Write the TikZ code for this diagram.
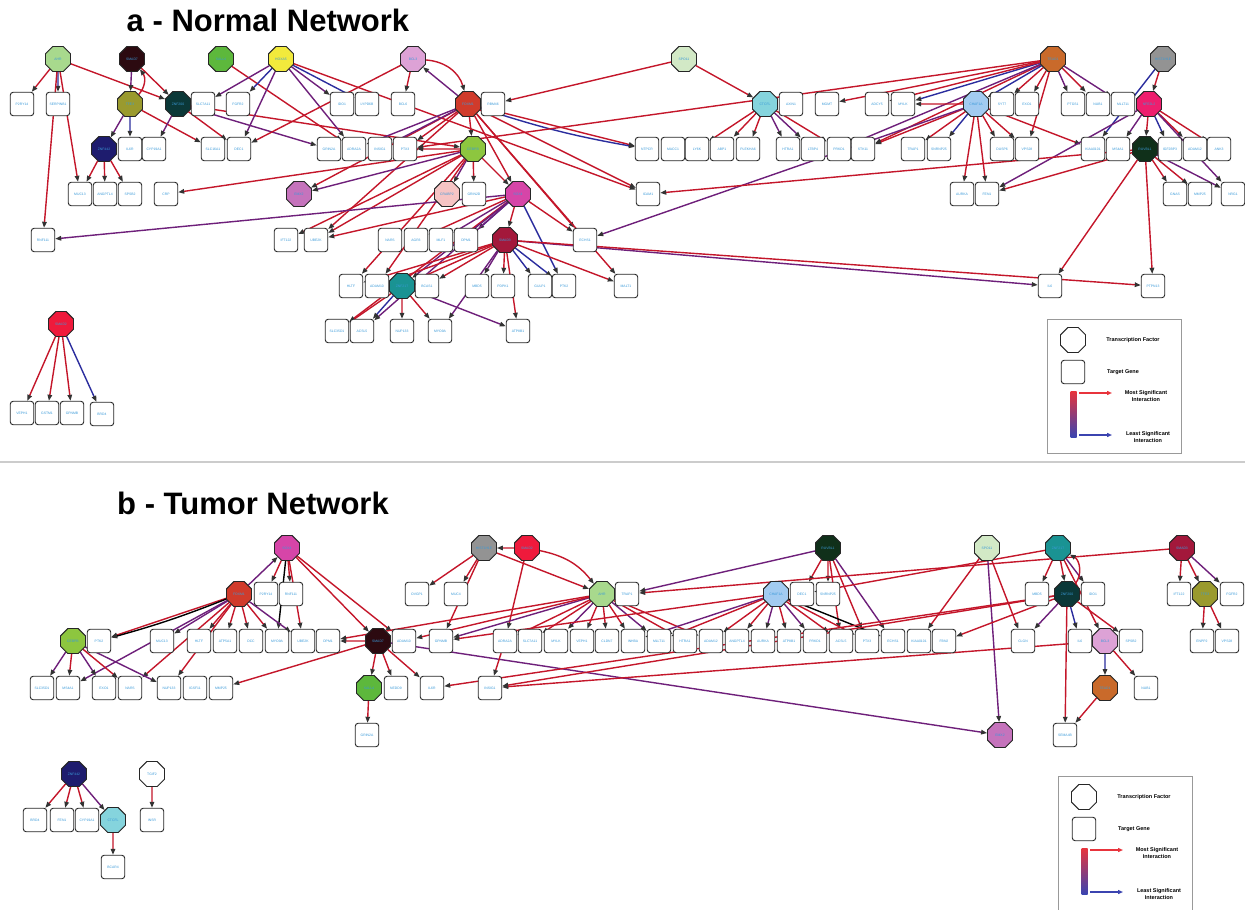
\documentclass[tikz,border=0pt]{standalone}
\usepackage{fontspec}
\setmainfont{Liberation Sans}
\usetikzlibrary{shapes.geometric,arrows.meta,backgrounds}

% edge colours
\definecolor{sigred}{HTML}{C4162A}
\definecolor{midpurple}{HTML}{6E1F7A}
\definecolor{lowblue}{HTML}{2B2D9E}
\definecolor{genetext}{HTML}{3A9AD9}
\definecolor{keyred}{HTML}{E8343C}
\definecolor{keyblue}{HTML}{3B44B0}
% transcription factor fills
\definecolor{cAHR}{HTML}{A8D98D}
\definecolor{cSMAD7}{HTML}{2C0A10}
\definecolor{cSALL4}{HTML}{5DB83C}
\definecolor{cHOXA5}{HTML}{F2EA3C}
\definecolor{cBCL3}{HTML}{DDA2D6}
\definecolor{cTFE3}{HTML}{9A9A2E}
\definecolor{cZNF200}{HTML}{0B3838}
\definecolor{cZNF442}{HTML}{1E1C6E}
\definecolor{cEMX2}{HTML}{C573BC}
\definecolor{cFOXM1}{HTML}{D03B2B}
\definecolor{cCEBPB}{HTML}{8DC63F}
\definecolor{cCRABP2}{HTML}{F6C4C4}
\definecolor{cSOX4}{HTML}{D645A8}
\definecolor{cSMAD3}{HTML}{A3183B}
\definecolor{cZNF217}{HTML}{1A9393}
\definecolor{cSPO11}{HTML}{D2E9C6}
\definecolor{cCTCFL}{HTML}{85D4DD}
\definecolor{cTEAD1}{HTML}{C96A2B}
\definecolor{cHIST}{HTML}{939393}
\definecolor{cCHAF1A}{HTML}{A2CBF1}
\definecolor{cNFE2}{HTML}{EE1E6E}
\definecolor{cRUVBL1}{HTML}{10301A}
\definecolor{cSMAD2}{HTML}{EF1A3C}

\tikzset{
  tf/.style={regular polygon, regular polygon sides=8, minimum size=27pt, inner sep=0pt,
    draw=black!85, line width=0.9pt, font=\fontsize{3.4}{4}\selectfont, text=genetext},
  gene/.style={rectangle, rounded corners=3pt, minimum size=23.5pt, inner sep=0pt,
    draw=black!85, line width=0.9pt, fill=white, font=\fontsize{3.4}{4}\selectfont, text=genetext},
  link/.style={line width=1.4pt, -{Triangle[length=6pt,width=4.5pt,color=black!80]}},
  sig/.style={link, sigred},
  mid/.style={link, midpurple},
  low/.style={link, lowblue},
  title/.style={font=\bfseries\fontsize{31}{36}\selectfont},
  legtext/.style={font=\bfseries\fontsize{5.5}{6.5}\selectfont, align=center},
  pics/legendkey/.style={code={
    \draw[black!40, line width=0.8pt] (0,0) rectangle (134,134);
    \node[tf, fill=white] (-tf) at (26,21) {};
    \node[legtext] (-tftext) at (86,21) {Transcription Factor};
    \node[gene] (-gene) at (26,53) {};
    \node[legtext] (-genetext) at (76,53) {Target Gene};
    \shade[top color=keyred, bottom color=keyblue] (23.5,72) rectangle (29.5,118);
    \coordinate (-hi) at (32,74); \coordinate (-hiend) at (65,74);
    \coordinate (-lo) at (32,116); \coordinate (-loend) at (65,116);
    \draw[keyred, line width=1.3pt, -{Triangle[length=5pt,width=4pt]}] (-hi) -- (-hiend);
    \draw[keyblue, line width=1.3pt, -{Triangle[length=5pt,width=4pt]}] (-lo) -- (-loend);
    \node[legtext] (-hitext) at (99,77) {Most Significant\\Interaction};
    \node[legtext] (-lotext) at (101,118) {Least Significant\\Interaction};
  }},
}

\begin{document}
\begin{tikzpicture}[x=1pt, y=-1pt]
  \useasboundingbox (0,0) rectangle (1245,910);

  \node[title] (titleA) at (268,20) {a - Normal Network};
  \node[title] (titleB) at (253,503) {b - Tumor Network};
  \draw[black!20, line width=1.2pt] (0,462) -- (1245,462);

  %%% normal network: transcription factors
  \node[tf,fill=cAHR] (ahrA) at (58,59) {AHR};
  \node[tf,fill=cSMAD7] (smad7A) at (132,59) {SMAD7};
  \node[tf,fill=cSALL4] (sall4A) at (221,59) {SALL4};
  \node[tf,fill=cHOXA5] (hoxa5A) at (281,59) {HOXA5};
  \node[tf,fill=cBCL3] (bcl3A) at (413,59) {BCL3};
  \node[tf,fill=cSPO11] (spo11A) at (684,59) {SPO11};
  \node[tf,fill=cTEAD1] (tead1A) at (1053,59) {TEAD1};
  \node[tf,fill=cHIST] (histA) at (1163,59) {HIST1H1E};
  \node[tf,fill=cTFE3] (tfe3A) at (130,104) {TFE3};
  \node[tf,fill=cZNF200] (znf200A) at (178,104) {ZNF200};
  \node[tf,fill=cFOXM1] (foxm1A) at (468,104) {FOXM1};
  \node[tf,fill=cCTCFL] (ctcflA) at (765,104) {CTCFL};
  \node[tf,fill=cCHAF1A] (chaf1aA) at (976,104) {CHAF1A};
  \node[tf,fill=cNFE2] (nfe2A) at (1149,104) {NFE2L2};
  \node[tf,fill=cZNF442] (znf442A) at (104,149) {ZNF442};
  \node[tf,fill=cCEBPB] (cebpbA) at (473,149) {CEBPB};
  \node[tf,fill=cRUVBL1] (ruvbl1A) at (1145,149) {RUVBL1};
  \node[tf,fill=cEMX2] (emx2A) at (299,194) {EMX2};
  \node[tf,fill=cCRABP2] (crabp2A) at (447,194) {CRABP2};
  \node[tf,fill=cSOX4] (sox4A) at (518,194) {SOX4};
  \node[tf,fill=cSMAD3] (smad3A) at (505,240) {SMAD3};
  \node[tf,fill=cZNF217] (znf217A) at (402,286) {ZNF217};
  \node[tf,fill=cSMAD2] (smad2A) at (61,324) {SMAD2};

  %%% normal network: target genes
  \node[gene] (p2ry14A) at (22,104) {P2RY14};
  \node[gene] (serpinb1A) at (58,104) {SERPINB1};
  \node[gene] (slc7a11A) at (203,104) {SLC7A11};
  \node[gene] (fgfr2A) at (238,104) {FGFR2};
  \node[gene] (ido1A) at (342,104) {IDO1};
  \node[gene] (lypd6bA) at (367,104) {LYPD6B};
  \node[gene] (bcl6A) at (403,104) {BCL6};
  \node[gene] (rbm46A) at (493,104) {RBM46};
  \node[gene] (axin1A) at (791,104) {AXIN1};
  \node[gene] (mgmtA) at (827,104) {MGMT};
  \node[gene] (adcy5A) at (877,104) {ADCY5};
  \node[gene] (mylkA) at (903,104) {MYLK};
  \node[gene] (syt7A) at (1002,104) {SYT7};
  \node[gene] (exo1A) at (1027,104) {EXO1};
  \node[gene] (ptgs1A) at (1073,104) {PTGS1};
  \node[gene] (nub1A) at (1098,104) {NUB1};
  \node[gene] (mllt11A) at (1123,104) {MLLT11};
  \node[gene] (il6rA) at (130,149) {IL6R};
  \node[gene] (cyp19a1A) at (154,149) {CYP19A1};
  \node[gene] (slc16a1A) at (213,149) {SLC16A1};
  \node[gene] (dec1A) at (239,149) {DEC1};
  \node[gene] (grin2aA) at (329,149) {GRIN2A};
  \node[gene] (adra2aA) at (354,149) {ADRA2A};
  \node[gene] (insig1A) at (380,149) {INSIG1};
  \node[gene] (ptx3A) at (405,149) {PTX3};
  \node[gene] (ntpcrA) at (647,149) {NTPCR};
  \node[gene] (macc1A) at (673,149) {MACC1};
  \node[gene] (ly6kA) at (697,149) {LY6K};
  \node[gene] (abp1A) at (722,149) {ABP1};
  \node[gene] (plekha6A) at (748,149) {PLEKHA6};
  \node[gene] (htra1A) at (788,149) {HTRA1};
  \node[gene] (ltbp4A) at (813,149) {LTBP4};
  \node[gene] (prkd1A) at (839,149) {PRKD1};
  \node[gene] (stk11A) at (863,149) {STK11};
  \node[gene] (trap1A) at (913,149) {TRAP1};
  \node[gene] (snrnp25A) at (939,149) {SNRNP25};
  \node[gene] (dusp6A) at (1002,149) {DUSP6};
  \node[gene] (vps28A) at (1027,149) {VPS28};
  \node[gene] (kiaa0101A) at (1093,149) {KIAA0101};
  \node[gene] (ms4a1A) at (1118,149) {MS4A1};
  \node[gene] (igf2bp3A) at (1170,149) {IGF2BP3};
  \node[gene] (adam12A) at (1195,149) {ADAM12};
  \node[gene] (ank3A) at (1219,149) {ANK3};
  \node[gene] (muc13A) at (80,194) {MUC13};
  \node[gene] (angptl4A) at (105,194) {ANGPTL4};
  \node[gene] (spsb2A) at (130,194) {SPSB2};
  \node[gene] (crpA) at (166,194) {CRP};
  \node[gene] (grin2dA) at (474,194) {GRIN2D};
  \node[gene] (icam1A) at (648,194) {ICAM1};
  \node[gene] (aurkaA) at (962,194) {AURKA};
  \node[gene] (fen1A) at (987,194) {FEN1};
  \node[gene] (gnasA) at (1175,194) {GNAS};
  \node[gene] (mmp25A) at (1200,194) {MMP25};
  \node[gene] (nrg1A) at (1233,194) {NRG1};
  \node[gene] (rnf111A) at (43,240) {RNF111};
  \node[gene] (ift122A) at (286,240) {IFT122};
  \node[gene] (ube2kA) at (316,240) {UBE2K};
  \node[gene] (narsA) at (390,240) {NARS};
  \node[gene] (agr3A) at (416,240) {AGR3};
  \node[gene] (mlf1A) at (441,240) {MLF1};
  \node[gene] (dpm1A) at (466,240) {DPM1};
  \node[gene] (echs1A) at (585,240) {ECHS1};
  \node[gene] (hltfA) at (351,286) {HLTF};
  \node[gene] (adam10A) at (377,286) {ADAM10};
  \node[gene] (bcas1A) at (427,286) {BCAS1};
  \node[gene] (mbd5A) at (477,286) {MBD5};
  \node[gene] (pdpk1A) at (503,286) {PDPK1};
  \node[gene] (gulp1A) at (540,286) {GULP1};
  \node[gene] (ptk2A) at (564,286) {PTK2};
  \node[gene] (malt1A) at (626,286) {MALT1};
  \node[gene] (il6A) at (1050,286) {IL6};
  \node[gene] (ptpn13A) at (1153,286) {PTPN13};
  \node[gene] (slc35d1A) at (337,331) {SLC35D1};
  \node[gene] (acsl5A) at (362,331) {ACSL5};
  \node[gene] (nup133A) at (402,331) {NUP133};
  \node[gene] (myo9aA) at (440,331) {MYO9A};
  \node[gene] (atp8b1A) at (518,331) {ATP8B1};
  \node[gene] (veph1A) at (22,413) {VEPH1};
  \node[gene] (gstm1A) at (47,413) {GSTM1};
  \node[gene] (gpnmbA) at (72,413) {GPNMB};
  \node[gene] (brd4A) at (102,414) {BRD4};

  %%% tumor network: transcription factors
  \node[tf,fill=cSOX4] (sox4B) at (287,548) {SOX4};
  \node[tf,fill=cHIST] (histB) at (484,548) {HIST1H1E};
  \node[tf,fill=cSMAD2] (smad2B) at (527,548) {SMAD2};
  \node[tf,fill=cRUVBL1] (ruvbl1B) at (828,548) {RUVBL1};
  \node[tf,fill=cSPO11] (spo11B) at (987,548) {SPO11};
  \node[tf,fill=cZNF217] (znf217B) at (1058,548) {ZNF217};
  \node[tf,fill=cSMAD3] (smad3B) at (1182,548) {SMAD3};
  \node[tf,fill=cFOXM1] (foxm1B) at (239,594) {FOXM1};
  \node[tf,fill=cAHR] (ahrB) at (602,594) {AHR};
  \node[tf,fill=cCHAF1A] (chaf1aB) at (776,594) {CHAF1A};
  \node[tf,fill=cZNF200] (znf200B) at (1067,594) {ZNF200};
  \node[tf,fill=cTFE3] (tfe3B) at (1205,594) {TFE3};
  \node[tf,fill=cCEBPB] (cebpbB) at (73,641) {CEBPB};
  \node[tf,fill=cSMAD7] (smad7B) at (378,641) {SMAD7};
  \node[tf,fill=cBCL3] (bcl3B) at (1105,641) {BCL3};
  \node[tf,fill=cSALL4] (sall4B) at (369,688) {SALL4};
  \node[tf,fill=cTEAD1] (tead1B) at (1105,688) {TEAD1};
  \node[tf,fill=cEMX2] (emx2B) at (1000,735) {EMX2};
  \node[tf,fill=cZNF442] (znf442B) at (74,774) {ZNF442};
  \node[tf,fill=white] (tgif2B) at (152,774) {TGIF2};
  \node[tf,fill=cCTCFL] (ctcflB) at (113,820) {CTCFL};

  %%% tumor network: target genes
  \node[gene] (p2ry14B) at (266,594) {P2RY14};
  \node[gene] (rnf111B) at (291,594) {RNF111};
  \node[gene] (ovgp1B) at (417,594) {OVGP1};
  \node[gene] (muc4B) at (456,594) {MUC4};
  \node[gene] (trap1B) at (627,594) {TRAP1};
  \node[gene] (dec1B) at (802,594) {DEC1};
  \node[gene] (snrnp25B) at (828,594) {SNRNP25};
  \node[gene] (mbd5B) at (1037,594) {MBD5};
  \node[gene] (ido1B) at (1093,594) {IDO1};
  \node[gene] (ift122B) at (1179,594) {IFT122};
  \node[gene] (fgfr2B) at (1232,594) {FGFR2};
  \node[gene] (ptk2B) at (99,641) {PTK2};
  \node[gene] (muc13B) at (162,641) {MUC13};
  \node[gene] (hltfB) at (199,641) {HLTF};
  \node[gene] (atp5a1B) at (225,641) {ATP5A1};
  \node[gene] (dccB) at (251,641) {DCC};
  \node[gene] (myo9aB) at (277,641) {MYO9A};
  \node[gene] (ube2kB) at (303,641) {UBE2K};
  \node[gene] (dpm1B) at (328,641) {DPM1};
  \node[gene] (adam10B) at (404,641) {ADAM10};
  \node[gene] (gpnmbB) at (441,641) {GPNMB};
  \node[gene] (adra2aB) at (505,641) {ADRA2A};
  \node[gene] (slc7a11B) at (530,641) {SLC7A11};
  \node[gene] (mylkB) at (556,641) {MYLK};
  \node[gene] (veph1B) at (582,641) {VEPH1};
  \node[gene] (cldn7B) at (607,641) {CLDN7};
  \node[gene] (inhbaB) at (633,641) {INHBA};
  \node[gene] (mllt11B) at (659,641) {MLLT11};
  \node[gene] (htra1B) at (685,641) {HTRA1};
  \node[gene] (adam12B) at (711,641) {ADAM12};
  \node[gene] (angptl4B) at (737,641) {ANGPTL4};
  \node[gene] (aurkaB) at (763,641) {AURKA};
  \node[gene] (atp8b1B) at (789,641) {ATP8B1};
  \node[gene] (prkd1B) at (815,641) {PRKD1};
  \node[gene] (acsl5B) at (841,641) {ACSL5};
  \node[gene] (ptx3B) at (867,641) {PTX3};
  \node[gene] (echs1B) at (893,641) {ECHS1};
  \node[gene] (kiaa0101B) at (919,641) {KIAA0101};
  \node[gene] (fbn2B) at (944,641) {FBN2};
  \node[gene] (clgnB) at (1023,641) {CLGN};
  \node[gene] (il6B) at (1080,641) {IL6};
  \node[gene] (spsb2B) at (1131,641) {SPSB2};
  \node[gene] (enpp2B) at (1202,641) {ENPP2};
  \node[gene] (vps28B) at (1227,641) {VPS28};
  \node[gene] (slc35d1B) at (42,688) {SLC35D1};
  \node[gene] (ms4a1B) at (68,688) {MS4A1};
  \node[gene] (exo1B) at (104,688) {EXO1};
  \node[gene] (narsB) at (130,688) {NARS};
  \node[gene] (nup133B) at (169,688) {NUP133};
  \node[gene] (igsf11B) at (195,688) {IGSF11};
  \node[gene] (mmp25B) at (221,688) {MMP25};
  \node[gene] (nedd9B) at (396,688) {NEDD9};
  \node[gene] (il6rB) at (432,688) {IL6R};
  \node[gene] (insig1B) at (490,688) {INSIG1};
  \node[gene] (nub1B) at (1146,688) {NUB1};
  \node[gene] (grin2aB) at (367,735) {GRIN2A};
  \node[gene] (sema4bB) at (1065,735) {SEMA4B};
  \node[gene] (brd4B) at (35,820) {BRD4};
  \node[gene] (fen1B) at (62,820) {FEN1};
  \node[gene] (cyp19a1B) at (87,820) {CYP19A1};
  \node[gene] (insrB) at (152,820) {INSR};
  \node[gene] (bcar4B) at (113,867) {BCAR4};

  % keys
  \pic (keyA) at (1047,319) {legendkey};
  \pic (keyB) at (1058,776) {legendkey};

  \begin{scope}[on background layer]
    \fill[white] (0,0) rectangle (1245,910);
    %%% normal network: interactions
    \draw[sig] (ahrA) edge (p2ry14A) edge[low] (serpinb1A) edge (muc13A) edge (rnf111A) edge (znf200A);
    \draw[sig] (smad7A) edge[mid] (tfe3A) edge (znf200A);
    \draw[sig] (tfe3A) edge[bend right=40] (smad7A) edge[mid] (znf442A) edge[low] (il6rA) edge (slc16a1A);
    \draw[sig] (znf200A) edge[mid] (cyp19a1A) edge (dec1A) edge[mid] (grin2aA) edge (cebpbA);
    \draw[sig] (znf442A) edge (muc13A) edge (angptl4A) edge (spsb2A);
    \draw[sig] (sall4A) edge (adra2aA);
    \draw[sig] (hoxa5A) edge[mid] (slc7a11A) edge[low] (fgfr2A) edge[mid] (dec1A) edge[mid] (ido1A)
      edge[low] (lypd6bA) edge[mid] (adra2aA) edge (icam1A);
    \draw[sig] (bcl3A) edge (bcl6A) edge (dec1A) edge[bend left=35] (foxm1A);
    \draw[sig] (spo11A) edge (rbm46A) edge (ctcflA);
    \draw[sig] (foxm1A) edge[mid] (bcl3A) edge (cebpbA) edge (ntpcrA) edge[low, bend right=4] (ntpcrA)
      edge (icam1A) edge (sox4A) edge (emx2A) edge (ptx3A) edge[mid] (insig1A) edge[mid] (adra2aA)
      edge (ube2kA) edge (echs1A) edge (malt1A);
    \draw[sig] (cebpbA) edge[mid] (crabp2A) edge (grin2dA) edge (sox4A) edge (crpA) edge[mid] (emx2A)
      edge (ift122A) edge (ube2kA) edge (ptx3A) edge (hltfA) edge (adam10A);
    \draw[sig] (sox4A) edge[mid] (rnf111A) edge (ube2kA) edge (agr3A) edge[mid] (mlf1A) edge[low] (dpm1A)
      edge (smad3A) edge (echs1A) edge[low] (ptk2A) edge (slc35d1A) edge[mid] (acsl5A) edge[mid] (znf217A);
    \draw[sig] (smad3A) edge (hltfA) edge (adam10A) edge (znf217A) edge (bcas1A) edge[mid] (mbd5A)
      edge (pdpk1A) edge[low] (gulp1A) edge[low] (ptk2A) edge (malt1A) edge[mid] (il6A) edge (ptpn13A)
      edge (atp8b1A) edge[mid] (myo9aA);
    \draw[sig] (znf217A) edge (slc35d1A) edge[low] (acsl5A) edge (nup133A) edge (myo9aA) edge[mid] (atp8b1A);
    \draw[sig] (ctcflA) edge (ly6kA) edge (abp1A) edge (plekha6A) edge[mid] (htra1A) edge[mid] (ltbp4A) edge (prkd1A);
    \draw[sig] (tead1A) edge (mgmtA) edge[low] (mylkA) edge (adcy5A) edge (stk11A) edge (syt7A) edge (exo1A)
      edge[mid] (ptgs1A) edge (nub1A) edge[mid] (mllt11A) edge (vps28A) edge[low] (chaf1aA) edge (ptx3A)
      edge[mid] (prkd1A);
    \draw[sig] (chaf1aA) edge (aurkaA) edge (fen1A) edge (dusp6A) edge (vps28A) edge[low] (snrnp25A)
      edge (trap1A) edge (kiaa0101A) edge (stk11A) edge[mid] (echs1A) edge (mylkA);
    \draw[sig] (histA) edge (nfe2A) edge[low] (kiaa0101A);
    \draw[sig] (nfe2A) edge[mid] (ms4a1A) edge (ruvbl1A) edge[low] (igf2bp3A) edge (adam12A) edge (ank3A)
      edge[mid] (nrg1A) edge[mid] (fen1A);
    \draw[sig] (ruvbl1A) edge (gnasA) edge (mmp25A) edge[mid] (nrg1A) edge (il6A) edge (ptpn13A)
      edge (icam1A) edge (fen1A);
    \draw[sig] (smad2A) edge (veph1A) edge (gstm1A) edge (gpnmbA) edge[low] (brd4A);

    %%% tumor network: interactions
    \draw[sig] (sox4B) edge (p2ry14B) edge (rnf111B) edge[black] (myo9aB) edge (ube2kB) edge (smad7B) edge (adam10B);
    \draw[sig] (foxm1B) edge[mid] (sox4B) edge (ptk2B) edge[black, bend left=3] (ptk2B) edge[mid] (muc13B)
      edge (hltfB) edge (atp5a1B) edge (dccB) edge (myo9aB) edge[mid] (ube2kB) edge (nup133B)
      edge (narsB) edge[mid] (ms4a1B);
    \draw[sig] (cebpbB) edge[mid] (slc35d1B) edge (ms4a1B) edge[mid] (exo1B) edge (narsB) edge[mid] (nup133B);
    \draw[sig] (smad7B) edge (dpm1B) edge (mmp25B) edge (sall4B) edge (nedd9B) edge (il6rB) edge[mid] (emx2B);
    \draw[sig] (sall4B) edge (grin2aB);
    \draw[sig] (histB) edge (ovgp1B) edge (muc4B) edge (ahrB) edge (gpnmbB);
    \draw[sig] (smad2B) edge (histB) edge[bend left=20] (ahrB) edge (adra2aB);
    \draw[sig] (ahrB) edge[mid] (gpnmbB) edge (adam10B) edge (dpm1B) edge (slc7a11B) edge[mid] (mylkB)
      edge (veph1B) edge (cldn7B) edge (inhbaB) edge[mid] (mllt11B) edge (htra1B) edge (adam12B) edge (adra2aB);
    \draw[sig] (ruvbl1B) edge[mid] (trap1B) edge (dec1B) edge (snrnp25B) edge (acsl5B) edge (ptx3B) edge[mid] (echs1B);
    \draw[sig] (chaf1aB) edge (gpnmbB) edge (angptl4B) edge[mid] (aurkaB) edge (atp8b1B) edge[mid] (prkd1B)
      edge[mid] (inhbaB) edge (adam12B) edge (mllt11B) edge (acsl5B) edge (ptx3B) edge[black] (echs1B);
    \draw[sig] (adra2aB) edge (insig1B);
    \draw[sig] (smad3B) edge (trap1B) edge (ift122B) edge (tfe3B) edge[mid] (fgfr2B);
    \draw[sig] (tfe3B) edge (enpp2B) edge (vps28B);
    \draw[sig] (spo11B) edge (kiaa0101B) edge (clgnB) edge[mid] (emx2B);
    \draw[sig] (znf217B) edge (mbd5B) edge (znf200B) edge[mid] (ido1B) edge (dec1B) edge (bcl3B);
    \draw[sig] (znf200B) edge[bend right=50] (znf217B) edge[mid] (clgnB) edge[low] (il6B) edge (sema4bB)
      edge (spsb2B) edge (fbn2B) edge (insig1B) edge (il6rB);
    \draw[sig] (bcl3B) edge[low] (tead1B) edge (nub1B) edge (insig1B);
    \draw[sig] (tead1B) edge (sema4bB);
    \draw[sig] (znf442B) edge (brd4B) edge (fen1B) edge (cyp19a1B) edge[mid] (ctcflB);
    \draw[sig] (ctcflB) edge (bcar4B);
    \draw[sig] (tgif2B) edge (insrB);
  \end{scope}
\end{tikzpicture}
\end{document}
